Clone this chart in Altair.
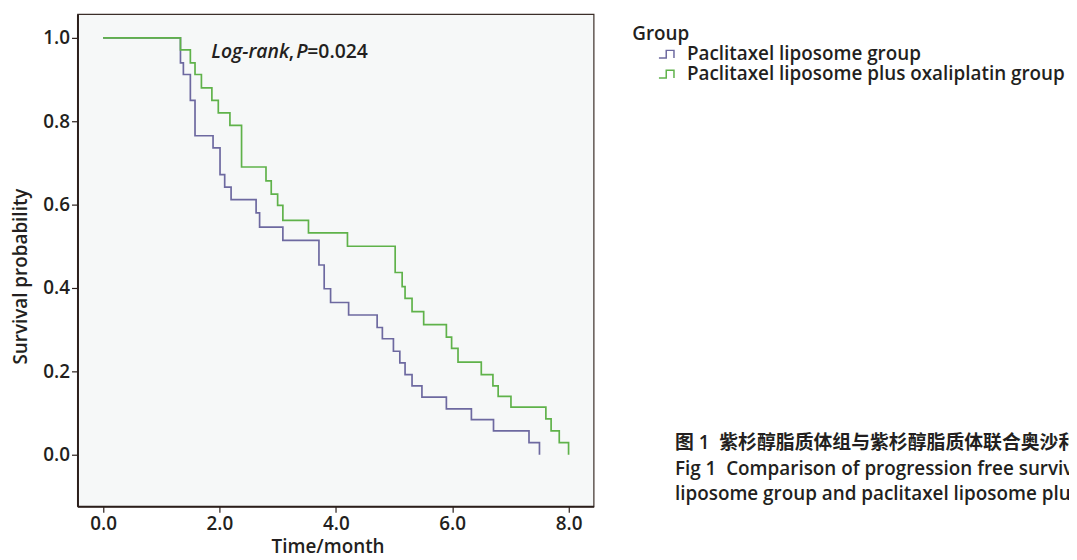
import altair as alt
import pandas as pd

groups = ["Paclitaxel liposome group", "Paclitaxel liposome plus oxaliplatin group"]

purple_t = [0, 1.33, 1.38, 1.50, 1.58, 1.89, 2.01, 2.09, 2.20, 2.63, 2.69, 3.09, 3.71, 3.80,
            3.91, 4.22, 4.71, 4.80, 4.99, 5.10, 5.19, 5.31, 5.48, 5.90, 6.33, 6.71, 7.32, 7.50]
purple_s = [1.0, 0.940, 0.912, 0.850, 0.765, 0.736, 0.672, 0.642, 0.612, 0.580, 0.546, 0.514, 0.455, 0.398,
            0.365, 0.335, 0.305, 0.278, 0.248, 0.220, 0.192, 0.165, 0.138, 0.110, 0.084, 0.057, 0.029, 0.0]

green_t = [0, 1.33, 1.50, 1.58, 1.69, 1.87, 1.98, 2.18, 2.38, 2.80, 2.89, 3.00, 3.09, 3.53, 4.20,
           5.02, 5.14, 5.19, 5.31, 5.51, 5.90, 5.99, 6.10, 6.50, 6.70, 6.79, 7.01, 7.61, 7.70, 7.84, 8.00]
green_s = [1.0, 0.971, 0.940, 0.912, 0.880, 0.850, 0.820, 0.790, 0.690, 0.657, 0.625, 0.598, 0.562, 0.532, 0.500,
           0.437, 0.403, 0.375, 0.343, 0.312, 0.282, 0.255, 0.222, 0.192, 0.165, 0.140, 0.114, 0.086, 0.057, 0.029, 0.0]

x_ticks = [0, 2, 4, 6, 8]
y_ticks = [0, 0.2, 0.4, 0.6, 0.8, 1.0]

annot_text = ["Log-rank", ",", "P", "=0.024"]
annot_italic = [True, False, True, False]
annot_t = [1.86, 3.19, 3.32, 3.51]
annot_s = [0.967, 0.967, 0.967, 0.967]

NB = "\u00a0"
caption = [
    "图 1" + NB * 2 + "紫杉醇脂质体组与紫杉醇脂质体联合奥沙利铂组无进展生存期比较",
    "Fig 1" + NB * 2 + "Comparison of progression free survival between paclitaxel",
    "liposome group and paclitaxel liposome plus oxaliplatin group",
]

FONT = "Open Sans"
INK = "#231f20"
colors = ["#6d69a0", "#5fb24a"]

df = pd.DataFrame({
    "t": purple_t + green_t,
    "s": purple_s + green_s,
    "group": [groups[0]] * len(purple_t) + [groups[1]] * len(green_t),
})
ann = pd.DataFrame({"t": annot_t, "s": annot_s, "label": annot_text, "italic": annot_italic})

xscale = alt.Scale(domain=[-0.44, 8.43], nice=False, zero=False)
yscale = alt.Scale(domain=[-0.124, 1.057], nice=False, zero=False)

X = alt.X("t:Q", scale=xscale, title="Time/month",
          axis=alt.Axis(values=x_ticks, format=".1f", titleX=252, titleY=32, titleBaseline="top"))
Y = alt.Y("s:Q", scale=yscale, title="Survival probability",
          axis=alt.Axis(values=y_ticks, format=".1f", titleX=-47, titleY=264, titleBaseline="bottom"))

step_icon = "M-1,0.45L-0.15,0.45L-0.15,-0.45L0.75,-0.45L0.75,0.45"

lines = alt.Chart(df).mark_line(interpolate="step-after", strokeWidth=1.7).encode(
    x=X, y=Y,
    color=alt.Color("group:N", scale=alt.Scale(domain=groups, range=colors),
                    legend=alt.Legend(title="Group", orient="none", legendX=559, legendY=11,
                                      symbolType=step_icon, symbolSize=300, symbolStrokeWidth=1.5,
                                      symbolOffset=26, labelOffset=10, rowPadding=-1, titlePadding=1,
                                      titleFont=FONT, titleFontSize=19, titleFontWeight=600,
                                      titleColor=INK, labelFont=FONT, labelFontSize=19,
                                      labelFontWeight=600, labelColor=INK, labelLimit=700)),
)

ann_it = alt.Chart(ann).transform_filter("datum.italic").mark_text(
    align="left", baseline="middle", fontStyle="italic", font=FONT, fontWeight=600,
    fontSize=19.5, color=INK).encode(x=X, y=Y, text="label:N")
ann_rm = alt.Chart(ann).transform_filter("!datum.italic").mark_text(
    align="left", baseline="middle", font=FONT, fontWeight=600,
    fontSize=19.5, color=INK).encode(x=X, y=Y, text="label:N")

chart = alt.layer(lines, ann_it, ann_rm).properties(
    width=520, height=496,
    autosize=alt.AutoSizeParams(type="none"),
    padding={"left": 70, "top": 4, "right": 479, "bottom": 56},
    background="white",
    title=alt.TitleParams(text=caption, orient="top", anchor="start", frame="group",
                          dx=602, dy=494, offset=0, baseline="top",
                          font=FONT + ", Noto Sans CJK SC", fontSize=19, fontWeight=600,
                          color=INK, lineHeight=26),
).configure_view(
    fill="#f6f8f8", stroke="#3b2e29", strokeWidth=1.2
).configure_axis(
    domainColor="#2b1f1b", domainWidth=2, tickColor="#2b1f1b", tickSize=6, tickWidth=1.2,
    grid=False, labelFont=FONT, labelFontSize=19, labelFontWeight=600, labelColor=INK,
    titleFont=FONT, titleFontSize=19, titleFontWeight=600, titleColor=INK, labelPadding=2,
)

chart.save("out.html", embed_options={"renderer": "svg", "actions": False})
